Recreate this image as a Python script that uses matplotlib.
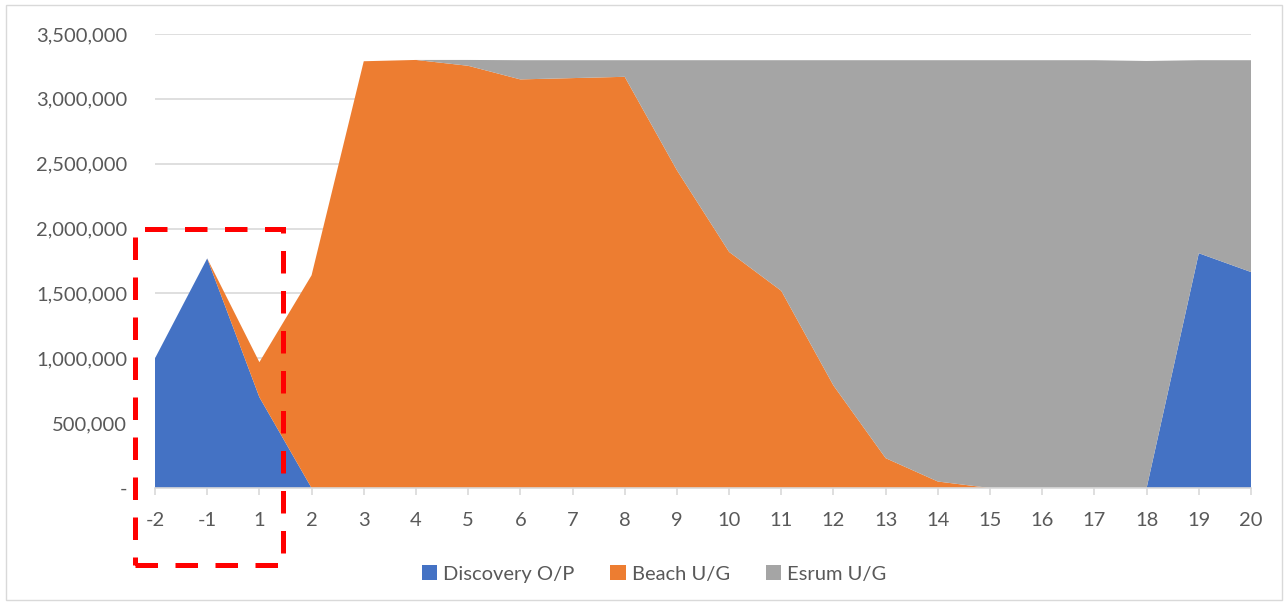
import matplotlib
matplotlib.use("Agg")
import matplotlib.pyplot as plt
from matplotlib.patches import Rectangle, Patch
from matplotlib.ticker import FuncFormatter, MultipleLocator
import numpy as np

categories = ["-2", "-1", "1", "2", "3", "4", "5", "6", "7", "8", "9", "10",
              "11", "12", "13", "14", "15", "16", "17", "18", "19", "20"]
discovery = [1000000, 1770000, 700000, 0, 0, 0, 0, 0, 0, 0, 0, 0,
             0, 0, 0, 0, 0, 0, 0, 0, 1810000, 1665000]
beach = [0, 0, 270000, 1640000, 3290000, 3300000, 3255000, 3150000, 3160000, 3170000,
         2450000, 1820000, 1520000, 790000, 230000, 50000, 0, 0, 0, 0, 0, 0]
esrum = [0, 0, 0, 0, 0, 0, 45000, 148000, 138000, 128000, 848000, 1478000,
         1778000, 2508000, 3068000, 3248000, 3298000, 3298000, 3298000, 3292000,
         1488000, 1633000]
series_names = ["Discovery O/P", "Beach U/G", "Esrum U/G"]
colors = ["#4472C4", "#ED7D31", "#A5A5A5"]

plt.rcParams['font.family'] = ['Lato', 'DejaVu Sans']
W, H = 1288, 605
fig = plt.figure(figsize=(W / 100, H / 100), dpi=100)
ax = fig.add_axes([155 / W, (H - 488) / H, (1251 - 155) / W, (488 - 34) / H])

x = np.arange(len(categories))
ax.stackplot(x, discovery, beach, esrum, colors=colors, linewidth=0)

FS = 14.5
ax.set_xlim(0, len(categories) - 1)
ax.set_ylim(0, 3500000)
ax.yaxis.set_major_locator(MultipleLocator(500000))
ax.yaxis.set_major_formatter(FuncFormatter(lambda v, p: "-" if v == 0 else f"{int(v):,}"))
ax.set_xticks(x)
ax.set_xticklabels(categories)
ax.grid(axis="y", color="#D9D9D9", linewidth=1.2)
ax.set_axisbelow(True)
for s in ["top", "right", "left"]:
    ax.spines[s].set_visible(False)
ax.spines["bottom"].set_color("#D9D9D9")
ax.spines["bottom"].set_linewidth(1.2)
ax.tick_params(axis="x", colors="#D9D9D9", length=5, width=1.2, labelcolor="#595959",
               labelsize=FS, pad=12)
ax.tick_params(axis="y", length=0, labelcolor="#595959", labelsize=FS, pad=20)

handles = [Patch(facecolor=c, label=n) for c, n in zip(colors, series_names)]
fig.legend(handles=handles, loc="center", bbox_to_anchor=(654 / W, 1 - 574 / H), ncol=3,
           frameon=False, fontsize=FS, labelcolor="#595959", handlelength=0.75,
           handleheight=0.75, handletextpad=0.3, columnspacing=1.8)

# red dashed highlight box
fig.patches.append(Rectangle((135 / W, 1 - 565 / H), (283 - 135) / W, (565 - 229) / H,
                             transform=fig.transFigure, fill=False, edgecolor="#FF0000",
                             linewidth=3.6, linestyle=(0, (4.5, 3.5)), zorder=10))
# chart border
fig.patches.append(Rectangle((6 / W, 1 - 600 / H), (1282 - 6) / W, (600 - 5) / H,
                             transform=fig.transFigure, fill=False, edgecolor="#D9D9D9",
                             linewidth=1, zorder=0))

fig.savefig("out.png", dpi=100)
